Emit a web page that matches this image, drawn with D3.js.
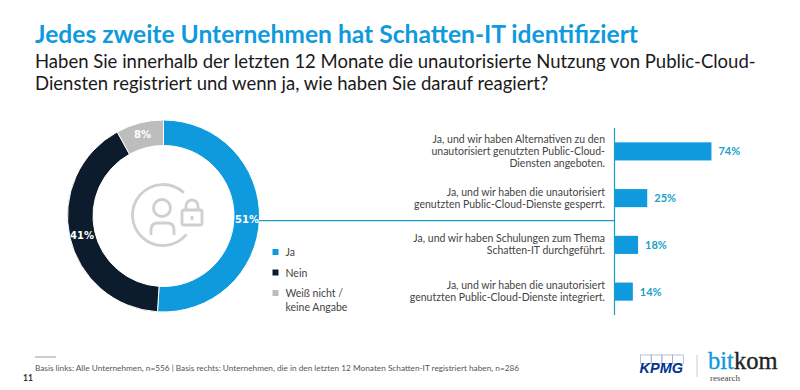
<!DOCTYPE html>
<html>
<head>
<meta charset="utf-8">
<title>Schatten-IT</title>
<script src="https://d3js.org/d3.v7.min.js"></script>
<style>
    html, body { margin: 0; padding: 0; background: #fff; }
    svg { display: block; font-family: Lato, sans-serif; }
</style>
</head>
<body>
<div id="chart"></div>
<script>
// donut data (left)
const donutLabels = ["Ja", "Nein", "Weiß nicht / keine Angabe"];
const donutValues = [51, 41, 8];
const donutColors = ["#0f9ade", "#0c1c2c", "#bdbdbd"];

// bar data (right)
const barLabels = [
    ["Ja, und wir haben Alternativen zu den", "unautorisiert genutzten Public-Cloud-", "Diensten angeboten."],
    ["Ja, und wir haben die unautorisiert", "genutzten Public-Cloud-Dienste gesperrt."],
    ["Ja, und wir haben Schulungen zum Thema", "Schatten-IT durchgeführt."],
    ["Ja, und wir haben die unautorisiert", "genutzten Public-Cloud-Dienste integriert."]
];
const barValues = [74, 25, 18, 14];

const title = "Jedes zweite Unternehmen hat Schatten-IT identifiziert";
const subtitle = [
    "Haben Sie innerhalb der letzten 12 Monate die unautorisierte Nutzung von Public-Cloud-",
    "Diensten registriert und wenn ja, wie haben Sie darauf reagiert?"
];
const footnote = "Basis links: Alle Unternehmen, n=556 | Basis rechts: Unternehmen, die in den letzten 12 Monaten Schatten-IT registriert haben, n=286";

const svg = d3.select("#chart").append("svg")
    .attr("width", 800)
    .attr("height", 390);

// headline
svg.append("text").attr("x", 35).attr("y", 43)
    .attr("font-size", 24.6).attr("font-weight", 700).attr("fill", "#0f9ade")
    .text(title);
svg.selectAll(".sub").data(subtitle).join("text")
    .attr("class", "sub")
    .attr("x", 35).attr("y", (d, i) => 68 + i * 22)
    .attr("font-size", 18.5).attr("fill", "#1a1a1a")
    .text(d => d);

// donut
const pie = d3.pie().sort(null).value(d => d);
const arc = d3.arc().innerRadius(70.5).outerRadius(96);
const donut = svg.append("g").attr("transform", "translate(163.5,216)");
const slices = pie(donutValues);

donut.selectAll("path").data(slices).join("path")
    .attr("d", arc)
    .attr("fill", (d, i) => donutColors[i])
    .attr("stroke", "#fff")
    .attr("stroke-width", 1);

// percent labels sit at hand placed spots on the ring
const labelSpots = [[83.5, 7], [-81.5, 22.5], [-21, -78]];
donut.selectAll(".pct").data(slices).join("text")
    .attr("class", "pct")
    .attr("x", (d, i) => labelSpots[i][0])
    .attr("y", (d, i) => labelSpots[i][1])
    .attr("text-anchor", "middle")
    .attr("font-family", "DejaVu Sans, sans-serif")
    .attr("font-size", 10).attr("font-weight", 700).attr("fill", "#fff")
    .text(d => d.value + "%");

// centre icon
const icon = svg.append("g").attr("transform", "translate(163,215)")
    .attr("fill", "none").attr("stroke", "#cfcfcf").attr("stroke-width", 2.8);
icon.append("path").attr("d", d3.arc().innerRadius(30.5).outerRadius(30.5).startAngle(Math.PI * 0.72).endAngle(Math.PI * 2.24)());
icon.append("circle").attr("cx", -1).attr("cy", -7).attr("r", 8.5);
icon.append("path").attr("d", "M-12,20 V15 Q-12,8 -5,8 H4 Q11,8 11,15 V20");
icon.append("rect").attr("x", 19).attr("y", -5).attr("width", 20).attr("height", 15).attr("rx", 2);
icon.append("path").attr("d", "M23,-5 V-9 A6,6 0 0 1 35,-9 V-5");
icon.append("path").attr("d", "M29,1 V5");

// legend
const legendY = [252, 272.5, 293];
const legend = svg.append("g");
legend.selectAll("rect").data(donutColors).join("rect")
    .attr("x", 272.5).attr("y", (d, i) => legendY[i] - 3)
    .attr("width", 6).attr("height", 6)
    .attr("fill", d => d);
const legendLines = [["Ja"], ["Nein"], ["Weiß nicht /", "keine Angabe"]];
legendLines.forEach((lines, i) => {
    lines.forEach((t, j) => {
        legend.append("text")
            .attr("x", 285.5).attr("y", legendY[i] + 4 + j * 14)
            .attr("font-size", 10.5).attr("fill", "#444")
            .text(t);
    });
});

// bars
const x = d3.scaleLinear().domain([0, 100]).range([614.5, 745.5]);
const y = d3.scaleBand()
    .domain(barValues.map((d, i) => i))
    .range([128, 315])
    .paddingInner(0.613)
    .paddingOuter(0.307);

const lineColor = "#1b9fc8";
svg.append("line")
    .attr("x1", 259).attr("x2", x(0))
    .attr("y1", 220.7).attr("y2", 220.7)
    .attr("stroke", lineColor).attr("stroke-width", 1.2);

svg.selectAll(".bar").data(barValues).join("rect")
    .attr("class", "bar")
    .attr("x", x(0))
    .attr("y", (d, i) => y(i))
    .attr("width", d => x(d) - x(0))
    .attr("height", y.bandwidth())
    .attr("fill", "#0f9ade");

svg.append("line")
    .attr("x1", x(0)).attr("x2", x(0))
    .attr("y1", 128).attr("y2", 315)
    .attr("stroke", lineColor).attr("stroke-width", 1.2);

svg.selectAll(".val").data(barValues).join("text")
    .attr("class", "val")
    .attr("x", d => x(d) + 7)
    .attr("y", (d, i) => y(i) + y.bandwidth() / 2 + 4)
    .attr("font-size", 11).attr("font-weight", 700).attr("fill", "#1b9fc8")
    .text(d => d + "%");

barLabels.forEach((lines, i) => {
    const mid = y(i) + y.bandwidth() / 2;
    lines.forEach((t, j) => {
        svg.append("text")
            .attr("x", 605)
            .attr("y", mid + 3.5 + (j - (lines.length - 1) / 2) * 11.8)
            .attr("text-anchor", "end")
            .attr("font-size", 10.5).attr("fill", "#444")
            .text(t);
    });
});

// footer
svg.append("line").attr("x1", 35).attr("x2", 56).attr("y1", 357).attr("y2", 357)
    .attr("stroke", "#999").attr("stroke-width", 1);
svg.append("text").attr("x", 35).attr("y", 371)
    .attr("font-size", 8.25).attr("fill", "#555")
    .text(footnote);
svg.append("text").attr("x", 23).attr("y", 381)
    .attr("font-size", 8.5).attr("font-weight", 700).attr("fill", "#333")
    .text("11");

// logos as text
const kpmg = svg.append("g");
kpmg.selectAll("rect").data([0, 1, 2, 3]).join("rect")
    .attr("x", d => 640.5 + d * 10.7).attr("y", 355)
    .attr("width", 10.7).attr("height", 8.5)
    .attr("fill", "none").attr("stroke", "#9aa9c8").attr("stroke-width", 0.7);
kpmg.append("text").attr("x", 639.5).attr("y", 373)
    .attr("font-family", "Liberation Sans, sans-serif")
    .attr("font-size", 14.5).attr("font-weight", 700).attr("font-style", "italic").attr("fill", "#00338d")
    .text("KPMG");
svg.append("line").attr("x1", 697).attr("x2", 697).attr("y1", 355).attr("y2", 377)
    .attr("stroke", "#ccc");
const bk = svg.append("text").attr("x", 708).attr("y", 369)
    .attr("font-family", "Liberation Serif, serif").attr("font-size", 24.5)
    .attr("stroke-width", 0.35);
bk.append("tspan").attr("fill", "#0f9ade").attr("stroke", "#0f9ade").text("bit");
bk.append("tspan").attr("fill", "#222").attr("stroke", "#222").text("kom");
svg.append("text").attr("x", 710).attr("y", 380.5)
    .attr("font-family", "Liberation Serif, serif")
    .attr("font-size", 9).attr("fill", "#444")
    .text("research");
</script>
</body>
</html>
